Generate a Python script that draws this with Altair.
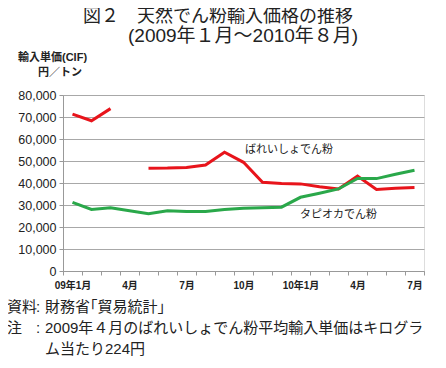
import altair as alt
import pandas as pd

months = ["2009-01","2009-02","2009-03","2009-04","2009-05","2009-06","2009-07","2009-08",
          "2009-09","2009-10","2009-11","2009-12","2010-01","2010-02","2010-03","2010-04",
          "2010-05","2010-06","2010-07"]
tick_labels = {"2009-01": "09年1月", "2009-04": "4月", "2009-07": "7月", "2009-10": "10月",
               "2010-01": "10年1月", "2010-04": "4月", "2010-07": "7月"}
potato = [71300, 68300, 73800, None, 46700, 46800, 47100, 48200, 54000, 49400,
          40300, 39800, 39600, 38300, 37300, 43200, 37100, 37600, 37900]
tapioca = [31200, 28000, 28700, 27400, 26000, 27400, 27100, 27100, 28000, 28500,
           28700, 29000, 33500, 35300, 37300, 42100, 42000, 44000, 45800]
series_names = ["ばれいしょでん粉", "タピオカでん粉"]
colors = ["#e8141b", "#2aa84a"]

rows = []
for name, vals in zip(series_names, [potato, tapioca]):
    seg = 0
    for m, v in zip(months, vals):
        if v is None:
            seg += 1
            continue
        rows.append({"month": m, "value": v, "series": name, "seg": f"{name}-{seg}"})
df = pd.DataFrame(rows)

FONT = "Liberation Sans, Noto Sans CJK JP"
label_expr = "{" + ",".join(f"'{k}':'{v}'" for k, v in tick_labels.items()) + "}[datum.value] || ''"

W, H = 361, 176

lines = alt.Chart(df).mark_line(strokeWidth=3).encode(
    x=alt.X("month:O", sort=months, scale=alt.Scale(domain=months, type="band", paddingInner=0, paddingOuter=0),
            axis=alt.Axis(title=None, labelExpr=label_expr, labelAngle=0, tickBand="extent",
                          domainColor="#999999", tickColor="#999999", tickSize=4, labelPadding=5,
                          labelFont=FONT, labelFontSize=10, labelFontWeight="bold", labelColor="#222222",
                          grid=False)),
    y=alt.Y("value:Q", scale=alt.Scale(domain=[0, 80000], nice=False),
            axis=alt.Axis(title=None, values=list(range(0, 80001, 10000)), format=",d",
                          domainColor="#999999", tickColor="#999999", tickSize=4, labelPadding=3,
                          gridColor="#a8a8a8", labelFont=FONT, labelFontSize=12.5, labelColor="#222222")),
    color=alt.Color("series:N", scale=alt.Scale(domain=series_names, range=colors), legend=None),
    detail="seg:N",
)

def txt(s, x, y, size, weight="normal", align="left"):
    return alt.Chart(pd.DataFrame({"t": [s]})).mark_text(
        font=FONT, fontSize=size, fontWeight=weight, align=align, baseline="middle", color="#222222"
    ).encode(x=alt.value(x), y=alt.value(y), text="t:N")

texts = [
    txt("図２　天然でん粉輸入価格の推移", 20, -78, 18),
    txt("(2009年１月～2010年８月)", 65, -59, 19),
    txt("輸入単価(CIF)", -45, -37, 11, "bold"),
    txt("円／トン", -25, -22, 11, "bold"),
    txt("ばれいしょでん粉", 182, 55, 11),
    txt("タピオカでん粉", 237, 120, 11),
    txt("資料", -56, 212, 15),
    txt(":", -27, 212, 15),
    txt("財務省｢貿易統計｣", -18, 212, 15),
    txt("注", -56, 233, 15),
    txt(":", -27, 233, 15),
    txt("2009年４月のばれいしょでん粉平均輸入単価はキログラ", -18, 233, 15),
    txt("ム当たり224円", -18, 254, 15),
]

chart = alt.layer(lines, *texts).properties(
    width=W, height=H,
    autosize=alt.AutoSizeParams(type="none"),
    padding={"left": 55, "top": 87, "right": 12, "bottom": 89},
).configure_view(stroke=None).configure(background="white")

chart.save("out.html", embed_options={"renderer": "svg", "actions": False})
